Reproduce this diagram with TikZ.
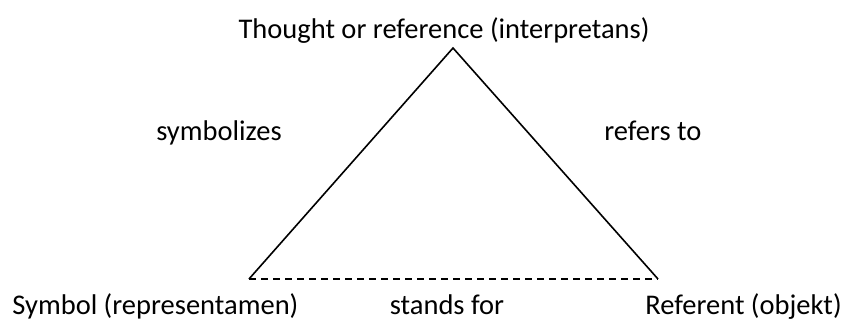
\documentclass[tikz,border=0pt]{standalone}
\usepackage{fontspec}
\setmainfont{Carlito}
\usepackage{tikz}
\usetikzlibrary{positioning}

\begin{document}
\begin{tikzpicture}[
      x=0.5pt, y=-0.5pt,
      every node/.style={inner sep=0pt, anchor=base, font=\fontsize{14.25}{17}\selectfont},
      side/.style={draw, line width=0.8pt},
      base/.style={draw, line width=0.8pt, dash pattern=on 3.5pt off 2.5pt}
    ]
      \useasboundingbox (0,0) rectangle (845,322);
      % triangle corners
      \coordinate (apex) at (453,48);
      \coordinate (lft) at (249,279);
      \coordinate (rgt) at (658,279);
      \draw[side] (lft) -- (apex) -- (rgt);
      \draw[base] (lft) -- (rgt);
      % corner texts
      \node (thought) at (444,38) {Thought or reference (interpretans)};
      \node[anchor=base west] (symbol) at (12,314) {Symbol (representamen)};
      \node[anchor=base east] (referent) at (842,314) {Referent (objekt)};
      % relation texts
      \node (symbolizes) at (219,140) {symbolizes};
      \node[anchor=base west] (refersto) at (604,140) {refers to};
      \node (standsfor) at (447,314) {stands for};
    \end{tikzpicture}
\end{document}
